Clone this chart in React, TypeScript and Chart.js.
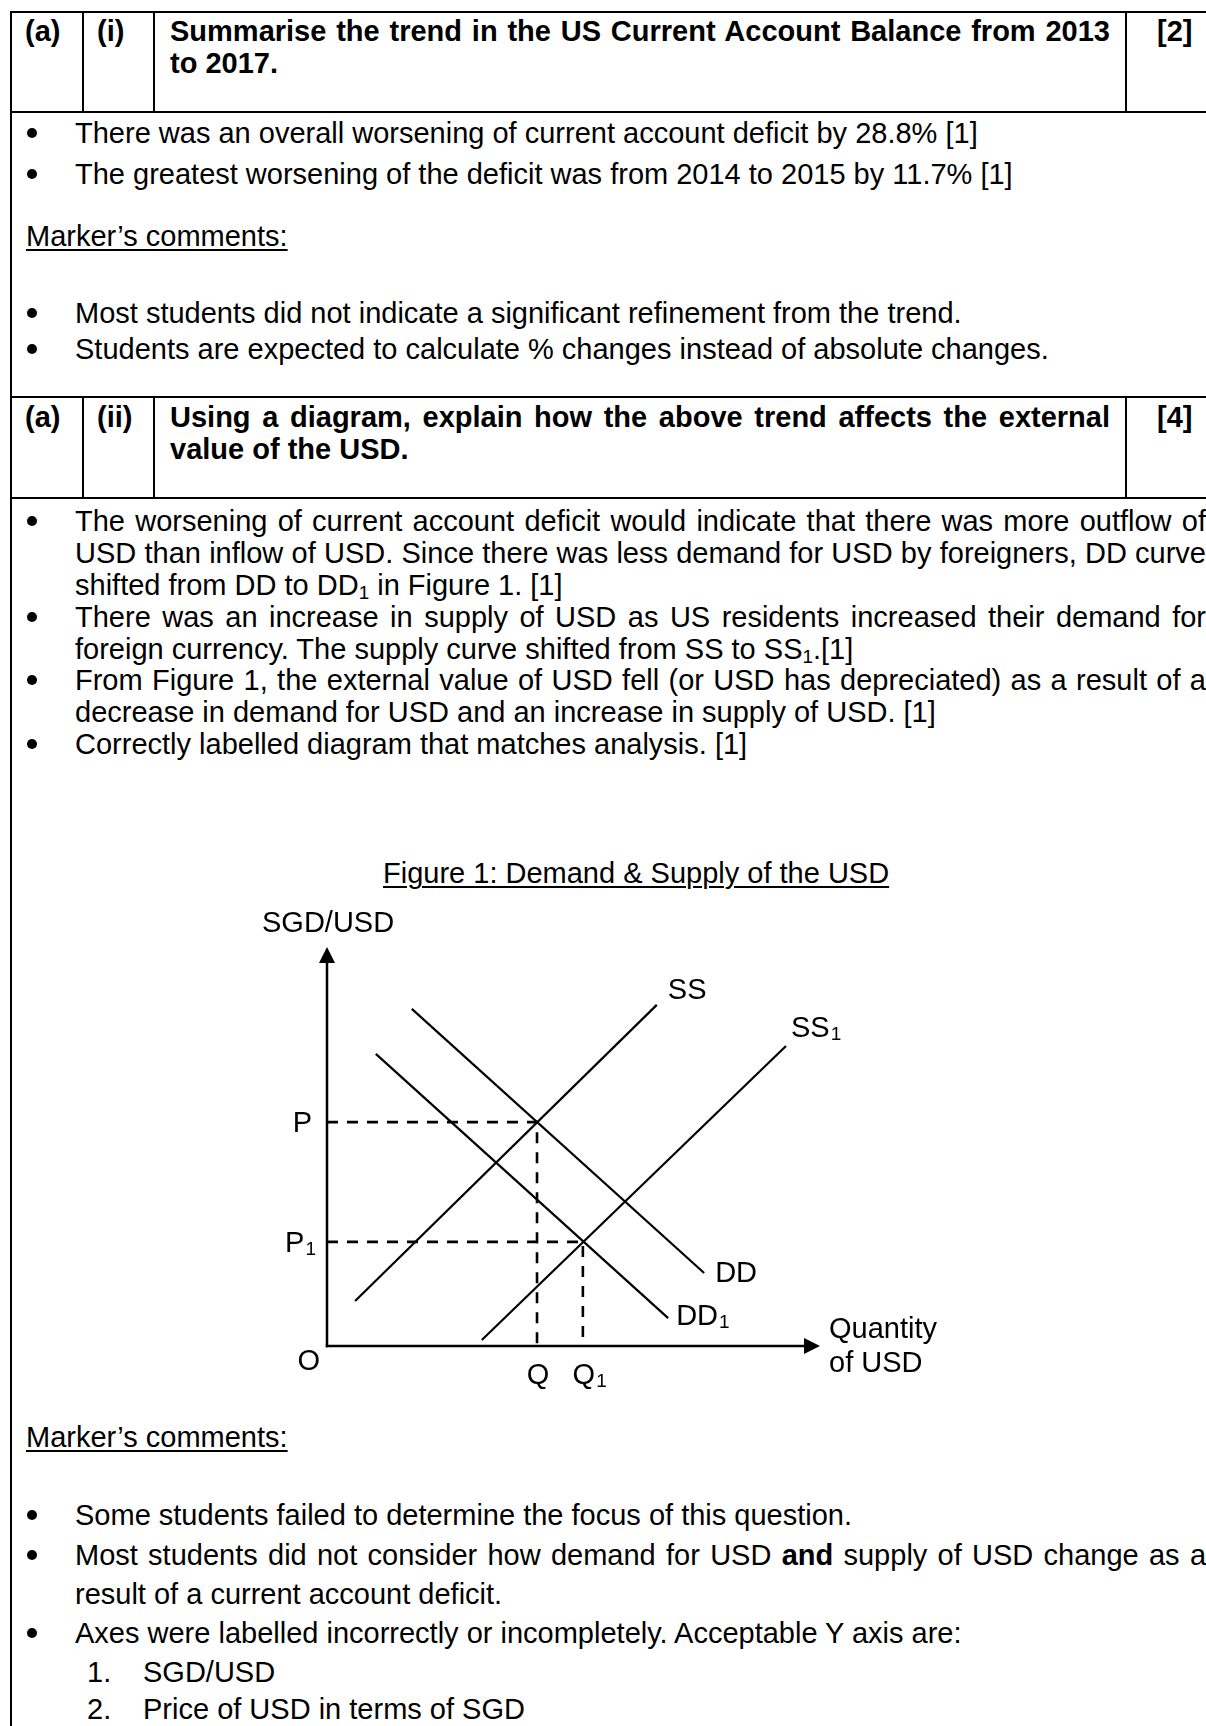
import React, { useEffect, useRef } from "react";
import { Chart, registerables } from "chart.js";

Chart.register(...registerables);

// ---------------- Diagram data (abstract units: quantity 0-100, price 0-100) ----------------
const curveNames = ["SS", "SS", "DD", "DD"];
const curveSubs = ["", "1", "", "1"];
const curveStartX = [5.7, 31.4, 17.2, 9.9];
const curveStartY = [11.3, 1.5, 84.5, 73.2];
const curveEndX = [66.9, 93.1, 76.5, 69.2];
const curveEndY = [85.5, 75.2, 18.3, 7.0];

const eqQuantity = [42.6, 51.9];
const eqPrice = [56.1, 26.1];
const priceLabels = ["P", "P"];
const priceSubs = ["", "1"];
const qtyLabels = ["Q", "Q"];
const qtySubs = ["", "1"];

const axisMax = [100, 100]; // [x, y]
const yAxisTitle = "SGD/USD";
const xAxisTitle = ["Quantity", "of USD"];
const originLabel = "O";

// ---------------- styles ----------------
const FONT_FAMILY = '"Liberation Sans", Arial, Helvetica, sans-serif';
const FS = 29;
const CANVAS_FONT = `${FS}px ${FONT_FAMILY}`;
const SUB_FONT = `19px ${FONT_FAMILY}`;
const CURVE_LABEL_DX = [11, 5, 11, 8];
const CURVE_LABEL_DY = [-6, -9, 9, 7];

function drawLabel(
  ctx: CanvasRenderingContext2D,
  main: string,
  sub: string,
  x: number,
  baseline: number,
  align: "left" | "right" | "centerMain"
) {
  ctx.font = CANVAS_FONT;
  const wMain = ctx.measureText(main).width;
  ctx.font = SUB_FONT;
  const wSub = sub ? ctx.measureText(sub).width + 1 : 0;
  let left = x;
  if (align === "right") left = x - wMain - wSub;
  else if (align === "centerMain") left = x - wMain / 2;
  ctx.textAlign = "left";
  ctx.textBaseline = "alphabetic";
  ctx.font = CANVAS_FONT;
  ctx.fillText(main, left, baseline);
  if (sub) {
    ctx.font = SUB_FONT;
    ctx.fillText(sub, left + wMain + 1, baseline + 3);
  }
}

const econPlugin = {
  id: "econLabels",
  afterDatasetsDraw(chart: any) {
    const { ctx } = chart;
    const xs = chart.scales.x;
    const ys = chart.scales.y;
    const x0 = xs.getPixelForValue(0);
    const y0 = ys.getPixelForValue(0);
    const xTip = xs.getPixelForValue(axisMax[0]);
    const yTip = ys.getPixelForValue(axisMax[1]);
    ctx.save();
    ctx.strokeStyle = "#000";
    ctx.fillStyle = "#000";
    ctx.lineWidth = 2.5;
    ctx.lineCap = "butt";
    // y axis
    ctx.beginPath();
    ctx.moveTo(x0, y0 + 1.25);
    ctx.lineTo(x0, yTip + 12);
    ctx.stroke();
    ctx.beginPath();
    ctx.moveTo(x0, yTip);
    ctx.lineTo(x0 - 8, yTip + 16);
    ctx.lineTo(x0 + 8, yTip + 16);
    ctx.closePath();
    ctx.fill();
    // x axis
    ctx.beginPath();
    ctx.moveTo(x0 - 1.25, y0);
    ctx.lineTo(xTip - 12, y0);
    ctx.stroke();
    ctx.beginPath();
    ctx.moveTo(xTip, y0);
    ctx.lineTo(xTip - 16, y0 - 8);
    ctx.lineTo(xTip - 16, y0 + 8);
    ctx.closePath();
    ctx.fill();

    // axis titles
    drawLabel(ctx, yAxisTitle, "", x0 - 65, yTip - 15, "left");
    drawLabel(ctx, xAxisTitle[0], "", xTip + 9, y0 - 8, "left");
    drawLabel(ctx, xAxisTitle[1], "", xTip + 9, y0 + 26, "left");
    drawLabel(ctx, originLabel, "", x0 - 7, y0 + 24, "right");

    // price and quantity labels
    for (let i = 0; i < eqPrice.length; i++) {
      const py = ys.getPixelForValue(eqPrice[i]);
      drawLabel(ctx, priceLabels[i], priceSubs[i], x0 - (priceSubs[i] ? 11 : 15), py + 10, "right");
      const qx = xs.getPixelForValue(eqQuantity[i]);
      drawLabel(ctx, qtyLabels[i], qtySubs[i], qx + 1, y0 + 38, "centerMain");
    }

    // curve labels
    for (let i = 0; i < curveNames.length; i++) {
      const ex = xs.getPixelForValue(curveEndX[i]);
      const ey = ys.getPixelForValue(curveEndY[i]);
      drawLabel(ctx, curveNames[i], curveSubs[i], ex + CURVE_LABEL_DX[i], ey + CURVE_LABEL_DY[i], "left");
    }
    ctx.restore();
  },
};

function Diagram() {
  const ref = useRef<HTMLCanvasElement | null>(null);
  useEffect(() => {
    if (!ref.current) return;
    const curves = curveNames.map((_, i) => ({
      label: curveNames[i] + curveSubs[i],
      data: [
        { x: curveStartX[i], y: curveStartY[i] },
        { x: curveEndX[i], y: curveEndY[i] },
      ],
      showLine: true,
      borderColor: "#000",
      borderWidth: 2.2,
      pointRadius: 0,
      fill: false,
      tension: 0,
      clip: false as any,
    }));
    const guides = eqPrice.map((p, i) => ({
      label: "guide" + i,
      data: [
        { x: 0, y: p },
        { x: eqQuantity[i], y: p },
        { x: eqQuantity[i], y: 0 },
      ],
      showLine: true,
      borderColor: "#000",
      borderWidth: 2.6,
      borderDash: [11, 9],
      pointRadius: 0,
      fill: false,
      tension: 0,
    }));
    const chart = new Chart(ref.current, {
      type: "scatter",
      data: { datasets: [...curves, ...guides] as any },
      options: {
        animation: false,
        responsive: false,
        maintainAspectRatio: false,
        devicePixelRatio: 1,
        events: [],
        layout: { padding: { left: 87, top: 52, right: 140, bottom: 49 } },
        plugins: {
          legend: { display: false },
          tooltip: { enabled: false },
          title: { display: false },
        },
        scales: {
          x: { type: "linear", min: 0, max: axisMax[0], display: false },
          y: { type: "linear", min: 0, max: axisMax[1], display: false },
        },
      },
      plugins: [econPlugin as any],
    });
    return () => chart.destroy();
  }, []);
  return (
    <canvas
      ref={ref}
      width={720}
      height={500}
      style={{ position: "absolute", left: 240, top: 895, width: 720, height: 500 }}
    />
  );
}

// ---------------- page text helpers ----------------
function TL(props: {
  b: number;
  left: number;
  width?: number;
  justify?: boolean;
  bold?: boolean;
  underline?: boolean;
  children: React.ReactNode;
}) {
  const { b, left, width, justify, bold, underline, children } = props;
  return (
    <div
      style={{
        position: "absolute",
        left,
        top: b - 26,
        width: width ?? undefined,
        height: 32,
        lineHeight: "32px",
        whiteSpace: justify ? "normal" : "nowrap",
        fontWeight: bold ? 700 : 400,
        textDecoration: underline ? "underline" : "none",
        textDecorationThickness: underline ? "2px" : undefined,
        textUnderlineOffset: underline ? "3px" : undefined,
        textAlign: justify ? "justify" : "left",
        textAlignLast: justify ? "justify" : "auto",
      } as React.CSSProperties}
    >
      {children}
    </div>
  );
}

function Dot({ b }: { b: number }) {
  return (
    <div
      style={{
        position: "absolute",
        left: 27,
        top: b - 15,
        width: 10,
        height: 10,
        borderRadius: "50%",
        background: "#000",
      }}
    />
  );
}

function Sub({ children }: { children: React.ReactNode }) {
  return <span style={{ fontSize: "0.65em", verticalAlign: "-0.22em", lineHeight: 0 }}>{children}</span>;
}

function HLine({ y }: { y: number }) {
  return <div style={{ position: "absolute", left: 10, top: y, width: 1200, height: 2, background: "#000" }} />;
}
function VLine({ x, y1, y2 }: { x: number; y1: number; y2: number }) {
  return <div style={{ position: "absolute", left: x, top: y1, width: 2, height: y2 - y1, background: "#000" }} />;
}

const TXT = 75;
const TW = 1131;

export default function App() {
  return (
    <div
      style={{
        position: "absolute",
        left: 0,
        top: 0,
        width: 1206,
        height: 1726,
        overflow: "hidden",
        background: "#fff",
        color: "#000",
        fontFamily: FONT_FAMILY,
        fontSize: FS,
      }}
    >
      {/* table frame */}
      <HLine y={11} />
      <VLine x={10} y1={11} y2={1726} />
      <HLine y={111} />
      <VLine x={82} y1={11} y2={112} />
      <VLine x={153} y1={11} y2={112} />
      <VLine x={1125} y1={11} y2={112} />
      <HLine y={396} />
      <HLine y={497} />
      <VLine x={82} y1={396} y2={498} />
      <VLine x={153} y1={396} y2={498} />
      <VLine x={1125} y1={396} y2={498} />

      {/* (a)(i) header */}
      <TL b={41} left={25} bold>(a)</TL>
      <TL b={41} left={97} bold>(i)</TL>
      <TL b={41} left={170} width={940} justify bold>
        Summarise the trend in the US Current Account Balance from 2013
      </TL>
      <TL b={73} left={170} bold>to 2017.</TL>
      <TL b={41} left={1157} bold>[2]</TL>

      {/* (a)(i) answer */}
      <Dot b={143} />
      <TL b={143} left={TXT}>There was an overall worsening of current account deficit by 28.8% [1]</TL>
      <Dot b={184} />
      <TL b={184} left={TXT}>The greatest worsening of the deficit was from 2014 to 2015 by 11.7% [1]</TL>
      <TL b={246} left={26} underline>Marker’s comments:</TL>
      <Dot b={323} />
      <TL b={323} left={TXT}>Most students did not indicate a significant refinement from the trend.</TL>
      <Dot b={359} />
      <TL b={359} left={TXT}>Students are expected to calculate % changes instead of absolute changes.</TL>

      {/* (a)(ii) header */}
      <TL b={427} left={25} bold>(a)</TL>
      <TL b={427} left={97} bold>(ii)</TL>
      <TL b={427} left={170} width={940} justify bold>
        Using a diagram, explain how the above trend affects the external
      </TL>
      <TL b={459} left={170} bold>value of the USD.</TL>
      <TL b={427} left={1157} bold>[4]</TL>

      {/* (a)(ii) answer */}
      <Dot b={531} />
      <TL b={531} left={TXT} width={TW} justify>
        The worsening of current account deficit would indicate that there was more outflow of
      </TL>
      <TL b={563} left={TXT} width={TW} justify>
        USD than inflow of USD. Since there was less demand for USD by foreigners, DD curve
      </TL>
      <TL b={595} left={TXT}>
        shifted from DD to DD<Sub>1</Sub> in Figure 1. [1]
      </TL>
      <Dot b={627} />
      <TL b={627} left={TXT} width={TW} justify>
        There was an increase in supply of USD as US residents increased their demand for
      </TL>
      <TL b={659} left={TXT}>
        foreign currency. The supply curve shifted from SS to SS<Sub>1</Sub>.[1]
      </TL>
      <Dot b={690} />
      <TL b={690} left={TXT} width={TW} justify>
        From Figure 1, the external value of USD fell (or USD has depreciated) as a result of a
      </TL>
      <TL b={722} left={TXT}>decrease in demand for USD and an increase in supply of USD. [1]</TL>
      <Dot b={754} />
      <TL b={754} left={TXT}>Correctly labelled diagram that matches analysis. [1]</TL>

      {/* figure */}
      <TL b={883} left={383} underline>Figure 1: Demand &amp; Supply of the USD</TL>
      <Diagram />

      {/* marker's comments */}
      <TL b={1447} left={26} underline>Marker’s comments:</TL>
      <Dot b={1525} />
      <TL b={1525} left={TXT}>Some students failed to determine the focus of this question.</TL>
      <Dot b={1565} />
      <TL b={1565} left={TXT} width={TW} justify>
        Most students did not consider how demand for USD <b>and</b> supply of USD change as a
      </TL>
      <TL b={1604} left={TXT}>result of a current account deficit.</TL>
      <Dot b={1643} />
      <TL b={1643} left={TXT}>Axes were labelled incorrectly or incompletely. Acceptable Y axis are:</TL>
      <TL b={1682} left={87}>1.</TL>
      <TL b={1682} left={143}>SGD/USD</TL>
      <TL b={1719} left={87}>2.</TL>
      <TL b={1719} left={143}>Price of USD in terms of SGD</TL>
    </div>
  );
}
